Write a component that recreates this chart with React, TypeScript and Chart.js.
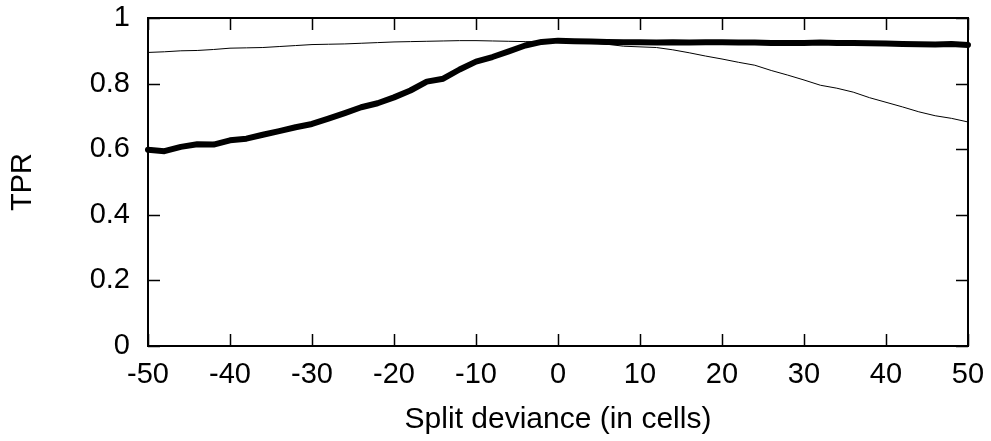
import React, { useEffect, useRef } from "react";
import { Chart, registerables } from "chart.js";

Chart.register(...registerables);

const deviance = [
  -50, -48, -46, -44, -42, -40, -38, -36, -34, -32, -30, -28, -26, -24, -22, -20, -18,
  -16, -14, -12, -10, -8, -6, -4, -2, 0, 2, 4, 6, 8, 10, 12, 14, 16, 18, 20, 22, 24, 26,
  28, 30, 32, 34, 36, 38, 40, 42, 44, 46, 48, 50,
];

const thickSeries = [
  0.598, 0.594, 0.607, 0.615, 0.614, 0.627, 0.632, 0.644, 0.655, 0.667, 0.677, 0.693,
  0.710, 0.728, 0.740, 0.758, 0.779, 0.806, 0.815, 0.843, 0.867, 0.881, 0.898, 0.916,
  0.927, 0.931, 0.929, 0.928, 0.927, 0.926, 0.926, 0.925, 0.926, 0.925, 0.926, 0.926,
  0.925, 0.925, 0.924, 0.924, 0.924, 0.925, 0.924, 0.924, 0.923, 0.922, 0.921, 0.920,
  0.919, 0.921, 0.918,
];

const thinSeries = [
  0.895, 0.897, 0.900, 0.901, 0.904, 0.908, 0.909, 0.910, 0.913, 0.916, 0.919, 0.920,
  0.921, 0.923, 0.925, 0.927, 0.928, 0.929, 0.930, 0.931, 0.931, 0.930, 0.929, 0.928,
  0.928, 0.927, 0.926, 0.924, 0.920, 0.914, 0.912, 0.910, 0.903, 0.894, 0.884, 0.875,
  0.865, 0.856, 0.840, 0.826, 0.811, 0.795, 0.786, 0.774, 0.757, 0.743, 0.729, 0.714,
  0.702, 0.694, 0.683,
];

const xTicks = [-50, -40, -30, -20, -10, 0, 10, 20, 30, 40, 50];
const yTicks = [0, 0.2, 0.4, 0.6, 0.8, 1];

const xTitle = "Split deviance (in cells)";
const yTitle = "TPR";

const FONT = "'Liberation Sans', Arial, Helvetica, sans-serif";

const framePlugin = {
  id: "gnuFrame",
  beforeDatasetsDraw(chart: any) {
    const { ctx, chartArea } = chart;
    const { left, right, top, bottom } = chartArea;
    const xs = chart.scales.x;
    const ys = chart.scales.y;
    const tl = 12;
    ctx.save();
    ctx.strokeStyle = "#000";
    ctx.lineWidth = 1.5;
    ctx.beginPath();
    xTicks.forEach((v) => {
      const px = Math.round(xs.getPixelForValue(v)) + 0.5;
      ctx.moveTo(px, bottom);
      ctx.lineTo(px, bottom - tl);
      ctx.moveTo(px, top);
      ctx.lineTo(px, top + tl);
    });
    yTicks.forEach((v) => {
      const py = Math.round(ys.getPixelForValue(v)) + 0.5;
      ctx.moveTo(left, py);
      ctx.lineTo(left + tl, py);
      ctx.moveTo(right, py);
      ctx.lineTo(right - tl, py);
    });
    ctx.stroke();
    ctx.lineWidth = 2;
    ctx.strokeRect(left, top, right - left, bottom - top);
    ctx.restore();
  },
};

const zeroPad = (s: any) => {
  s.paddingLeft = 0;
  s.paddingRight = 0;
  s.paddingTop = 0;
  s.paddingBottom = 0;
};

export default function App() {
  const ref = useRef<HTMLCanvasElement | null>(null);

  useEffect(() => {
    if (!ref.current) return;
    const chart = new Chart(ref.current, {
      type: "line",
      data: {
        datasets: [
          {
            label: "thin",
            data: deviance.map((x, i) => ({ x, y: thinSeries[i] })),
            borderColor: "#000",
            borderWidth: 1,
            pointRadius: 0,
            tension: 0,
            clip: 4,
          },
          {
            label: "thick",
            data: deviance.map((x, i) => ({ x, y: thickSeries[i] })),
            borderColor: "#000",
            borderWidth: 6,
            borderCapStyle: "round",
            borderJoinStyle: "round",
            pointRadius: 0,
            tension: 0,
            clip: 6,
          },
        ],
      },
      options: {
        animation: false,
        responsive: true,
        maintainAspectRatio: false,
        layout: { padding: { top: 18, right: 23, left: 0, bottom: 0 } },
        plugins: {
          legend: { display: false },
          tooltip: { enabled: false },
        },
        scales: {
          x: {
            type: "linear",
            min: -50,
            max: 50,
            afterFit: (s: any) => {
              s.height = 95;
              zeroPad(s);
            },
            afterBuildTicks: (s: any) => {
              s.ticks = xTicks.map((v) => ({ value: v }));
            },
            grid: { display: false, drawTicks: false },
            border: { display: false },
            ticks: {
              color: "#000",
              font: { family: FONT, size: 29 },
              padding: 12,
              maxRotation: 0,
              autoSkip: false,
              callback: (v: any) => String(v),
            },
            title: {
              display: true,
              text: xTitle,
              color: "#000",
              font: { family: FONT, size: 30 },
              padding: { top: 0, bottom: 3 },
            },
          },
          y: {
            type: "linear",
            min: 0,
            max: 1,
            afterFit: (s: any) => {
              s.width = 148;
              zeroPad(s);
            },
            afterBuildTicks: (s: any) => {
              s.ticks = yTicks.map((v) => ({ value: v }));
            },
            grid: { display: false, drawTicks: false },
            border: { display: false },
            ticks: {
              color: "#000",
              font: { family: FONT, size: 29 },
              padding: 18,
              autoSkip: false,
              callback: (v: any) => String(Number(Number(v).toFixed(1))),
            },
            title: {
              display: true,
              text: yTitle,
              color: "#000",
              font: { family: FONT, size: 29 },
              padding: { top: 6, bottom: 0 },
            },
          },
        },
      },
      plugins: [framePlugin],
    });
    return () => chart.destroy();
  }, []);

  return (
    <div
      style={{
        position: "absolute",
        left: 0,
        top: 0,
        width: 991,
        height: 441,
        background: "#fff",
      }}
    >
      <canvas ref={ref} />
    </div>
  );
}
